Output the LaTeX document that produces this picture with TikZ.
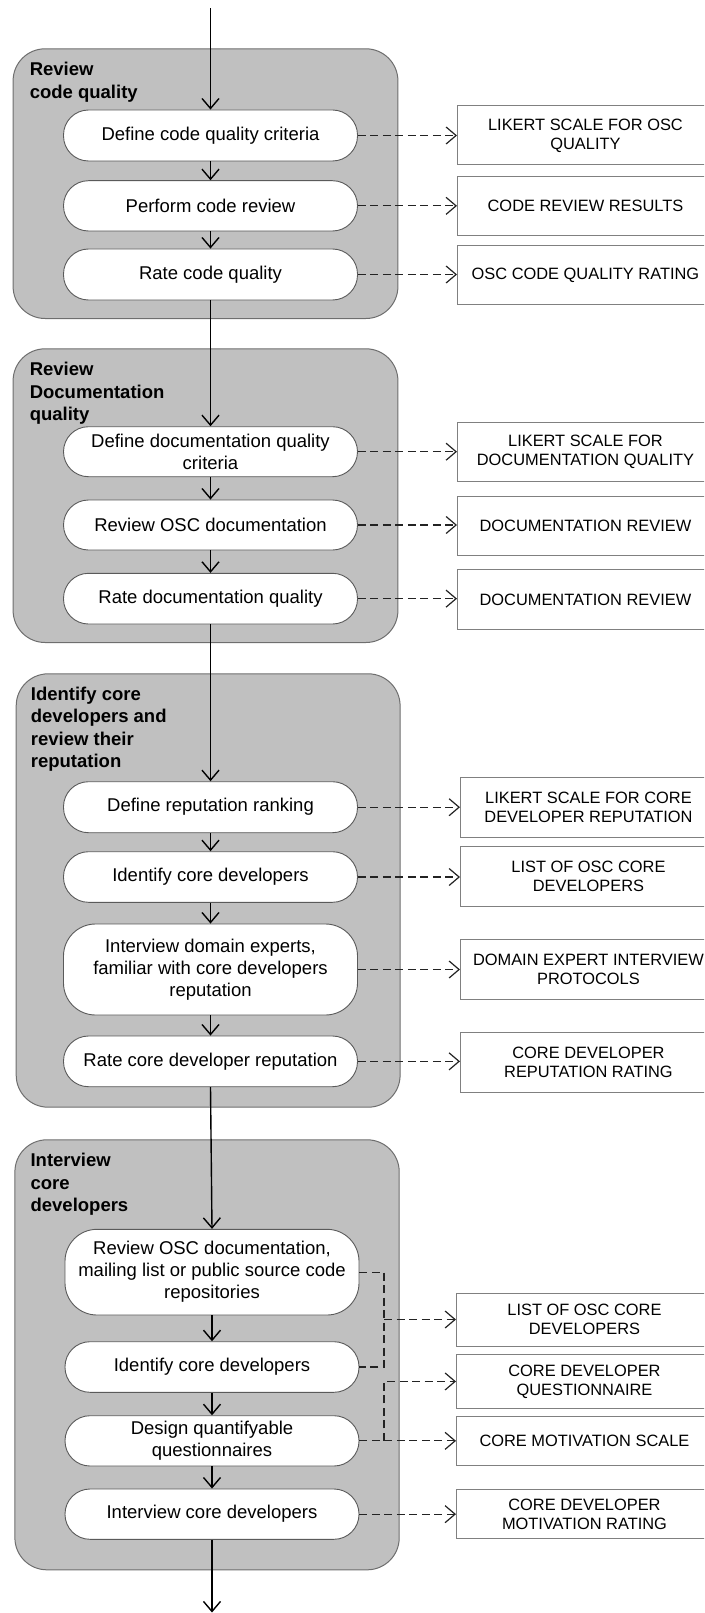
\documentclass[tikz,border=0pt]{standalone}
\usepackage{fontspec}
\setmainfont{Liberation Sans}
\usetikzlibrary{arrows.meta}
\definecolor{groupfill}{RGB}{192,192,192}
\definecolor{groupline}{RGB}{110,110,110}
\definecolor{pillline}{RGB}{90,90,90}
\definecolor{boxline}{RGB}{128,128,128}
\definecolor{dashline}{RGB}{35,35,35}
\begin{document}
\begin{tikzpicture}[x=1pt,y=-1pt,
  group/.style={draw=groupline, fill=groupfill, line width=1pt, rounded corners=32pt,
    inner sep=0pt, anchor=north west},
  grouptitle/.style={anchor=north west, inner sep=0pt, align=left,
    font=\fontsize{18.5}{22.5}\selectfont\bfseries},
  activity/.style={draw=pillline, fill=white, line width=0.9pt, rounded corners=25pt,
    minimum width=294pt, minimum height=51pt, inner sep=0pt, align=center,
    font=\fontsize{18.5}{22}\selectfont},
  tallactivity/.style={activity, rounded corners=32pt},
  product/.style={draw=boxline, fill=white, line width=0.9pt, minimum width=256pt,
    minimum height=59pt, inner sep=0pt, align=center, anchor=north west,
    font=\fontsize{16.4}{19}\selectfont},
  flow/.style={-{Straight Barb[length=10pt,width=17pt]}, line width=1.4pt, black},
  output/.style={-{Straight Barb[length=10pt,width=17pt]}, dash pattern=on 8pt off 4.5pt,
    line width=1.2pt, dashline},
  outline/.style={dash pattern=on 8pt off 4.5pt, line width=1.2pt, dashline},
]
\clip (0,0) rectangle (704,1613);

% ---------- phase containers ----------
\node[group, minimum width=384.8pt, minimum height=269.7pt] (g1) at (12.6,48.3) {};
\node[group, minimum width=384.8pt, minimum height=293.7pt] (g2) at (12.6,348.3) {};
\node[group, minimum width=383.9pt, minimum height=433.4pt] (g3) at (15.7,673.3) {};
\node[group, minimum width=384.3pt, minimum height=430pt] (g4) at (14.4,1139.3) {};

\node[grouptitle] (t1) at ([xshift=17pt,yshift=-14pt]g1.north west) {Review\\code quality};
\node[grouptitle] (t2) at ([xshift=17pt,yshift=-14pt]g2.north west) {Review\\Documentation\\quality};
\node[grouptitle] (t3) at ([xshift=15pt,yshift=-13.5pt]g3.north west) {Identify core\\developers and\\review their\\reputation};
\node[grouptitle] (t4) at ([xshift=16pt,yshift=-14pt]g4.north west) {Interview\\core\\developers};

% ---------- activities ----------
\node[activity] (p11) at (210.5,135.5) {Define code quality criteria};
\node[activity, minimum height=50.3pt] (p12) at (210.5,205.85) {Perform code review};
\node[activity] (p13) at (210.5,274.5) {Rate code quality};

\node[activity, minimum height=50pt] (p21) at (210.5,451.7) {Define documentation quality\\criteria};
\node[activity, minimum height=50pt] (p22) at (210.5,525) {Review OSC documentation};
\node[activity, minimum height=50.7pt] (p23) at (210.5,598.65) {Rate documentation quality};

\node[activity] (p31) at (210.5,807.2) {Define reputation ranking};
\node[activity, minimum height=50.6pt] (p32) at (210.5,877) {Identify core developers};
\node[tallactivity, minimum height=91pt] (p33) at (210.5,969.5) {Interview domain experts,\\familiar with core developers\\reputation};
\node[activity, minimum height=50.7pt] (p34) at (210.5,1061.35) {Rate core developer reputation};

\node[tallactivity, minimum height=85.7pt] (p41) at (212,1272.15) {Review OSC documentation,\\mailing list or public source code\\repositories};
\node[activity, minimum height=50.6pt] (p42) at (212,1367) {Identify core developers};
\node[activity, minimum height=50.3pt] (p43) at (212,1440.85) {Design quantifyable\\questionnaires};
\node[activity, minimum height=50.3pt] (p44) at (212,1514.15) {Interview core developers};

% ---------- work products ----------
\node[product] (b11) at (457,105.5) {LIKERT SCALE FOR OSC\\QUALITY};
\node[product, minimum height=59.3pt] (b12) at (457,175.7) {CODE REVIEW RESULTS};
\node[product] (b13) at (457,245) {OSC CODE QUALITY RATING};

\node[product, minimum height=59.3pt] (b21) at (457,421.7) {LIKERT SCALE FOR\\DOCUMENTATION QUALITY};
\node[product, minimum height=59.3pt] (b22) at (457,495.7) {DOCUMENTATION REVIEW};
\node[product, minimum height=59.7pt] (b23) at (457,569.3) {DOCUMENTATION REVIEW};

\node[product, minimum height=60pt] (b31) at (460,777.3) {LIKERT SCALE FOR CORE\\DEVELOPER REPUTATION};
\node[product, minimum height=60pt] (b32) at (460,845.7) {LIST OF OSC CORE\\DEVELOPERS};
\node[product, minimum height=60pt] (b33) at (460,939.3) {DOMAIN EXPERT INTERVIEW\\PROTOCOLS};
\node[product, minimum height=60pt] (b34) at (460,1031.7) {CORE DEVELOPER\\REPUTATION RATING};

\node[product, minimum height=53.3pt] (b41) at (456,1292.7) {LIST OF OSC CORE\\DEVELOPERS};
\node[product, minimum height=53.4pt] (b42) at (456,1354.3) {CORE DEVELOPER\\QUESTIONNAIRE};
\node[product, minimum height=49.3pt] (b43) at (456,1415.7) {CORE MOTIVATION SCALE};
\node[product, minimum height=49.3pt] (b44) at (456,1489) {CORE DEVELOPER\\MOTIVATION RATING};

% ---------- control flow ----------
\coordinate (start) at (210.5,8.3);
\coordinate (finish) at (212,1612.5);
\draw[flow] (start) -- (p11);
\draw[flow] (p11) -- (p12);
\draw[flow] (p12) -- (p13);
\draw[flow] (p13) -- (p21);
\draw[flow] (p21) -- (p22);
\draw[flow] (p22) -- (p23);
\draw[flow] (p23) -- (p31);
\draw[flow] (p31) -- (p32);
\draw[flow] (p32) -- (p33);
\draw[flow] (p33) -- (p34);
\draw[flow] (p34.south) -- (p41.north);
\draw[flow] (p41) -- (p42);
\draw[flow] (p42) -- (p43);
\draw[flow] (p43) -- (p44);
\draw[flow] (p44) -- (finish);

% ---------- produced artefacts ----------
\foreach \p/\b in {p11/b11,p12/b12,p13/b13,p21/b21,p22/b22,p23/b23,
                   p31/b31,p32/b32,p33/b33,p34/b34,p44/b44}
  \draw[output] (\p.east) -- (\p.east -| \b.west);

\coordinate (bus) at (384,1319.5);
\draw[outline] (p41.east) -| (bus) |- (p42.east);
\draw[output] (bus) -- (bus -| b41.west);
\draw[output] (p43.east) -- (p43.east -| b43.west);
\draw[output] (p43.east -| bus) |- (b42.west);
\end{tikzpicture}
\end{document}
